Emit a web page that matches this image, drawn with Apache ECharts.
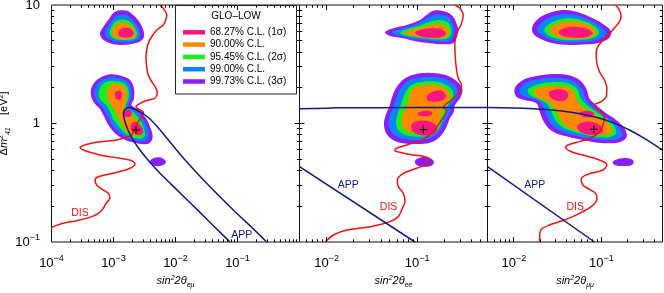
<!DOCTYPE html>
<html><head><meta charset="utf-8">
<script src="https://cdn.jsdelivr.net/npm/echarts@6/dist/echarts.min.js"></script>
<style>html,body{margin:0;padding:0;background:#fff}#c{width:664px;height:293px}</style>
</head><body><div id="c"></div>
<script>
// All coordinates are [log10(sin^2 2θ), log10(Δm²41 / eV²)]
const LEVELS = ['68.27% C.L. (1σ)', '90.00% C.L.', '95.45% C.L. (2σ)', '99.00% C.L.', '99.73% C.L. (3σ)'];
const PANEL_NAMES = ['eμ', 'ee', 'μμ'];
const X_RANGES = [[-4, 0], [-2.301, -0.222], [-2.301, -0.301]];
const Y_RANGE = [-1, 1];
const X_LABELS = [[-4, -3, -2, -1], [-2, -1], [-2, -1]];
const X_MAJORS = [[-4, -3, -2, -1, 0], [-3, -2, -1, 0], [-3, -2, -1, 0]];
const Y_MAJORS = [-1, 0, 1];
const MANTISSAS = [2, 3, 4, 5, 6, 7, 8, 9];

// ---------- Panel 1 (sin^2 2θ_eμ) ----------
const p1_dis = [[-2.261,1.0],[-2.197,0.972],[-2.142,0.916],[-2.158,0.873],[-2.197,0.831],[-2.303,0.789],[-2.384,0.732],[-2.439,0.677],[-2.465,0.620],[-2.476,0.564],[-2.465,0.479],[-2.439,0.409],[-2.384,0.353],[-2.315,0.297],[-2.294,0.255],[-2.331,0.213],[-2.439,0.198],[-2.573,0.170],[-2.637,0.142],[-2.573,0.114],[-2.519,0.097],[-2.540,0.063],[-2.605,0.013],[-2.669,-0.055],[-2.706,-0.097],[-2.842,-0.125],[-2.948,-0.139],[-3.218,-0.154],[-3.406,-0.173],[-3.540,-0.201],[-3.487,-0.224],[-3.218,-0.266],[-2.895,-0.294],[-2.706,-0.314],[-2.653,-0.342],[-2.734,-0.378],[-3.003,-0.420],[-3.245,-0.449],[-3.298,-0.477],[-3.271,-0.519],[-3.165,-0.561],[-3.084,-0.589],[-3.056,-0.631],[-3.121,-0.673],[-3.165,-0.716],[-3.245,-0.758],[-3.379,-0.792],[-3.594,-0.820],[-3.810,-0.842],[-4.0,-0.876]];
const p1_app = [[[-1.121,-1.0],[-1.335,-0.890],[-1.605,-0.750],[-1.981,-0.558],[-2.250,-0.420],[-2.444,-0.308],[-2.573,-0.224],[-2.685,-0.139],[-2.766,-0.055],[-2.823,0.030],[-2.839,0.089],[-2.815,0.118],[-2.761,0.135],[-2.681,0.127],[-2.573,0.101],[-2.439,0.051],[-2.303,-0.021],[-2.169,-0.105],[-2.035,-0.190],[-1.874,-0.291],[-1.497,-0.505],[-1.068,-0.730],[-0.745,-0.889],[-0.529,-1.0]]];
const p1_best = [[-2.637,-0.055]];
const p1_c9973 = [
  [[-2.976,0.944],[-2.788,0.952],[-2.681,0.916],[-2.584,0.859],[-2.519,0.789],[-2.509,0.733],[-2.573,0.691],[-2.707,0.671],[-2.896,0.663],[-3.057,0.677],[-3.175,0.710],[-3.218,0.761],[-3.164,0.817],[-3.084,0.874]],
  [[-3.057,0.415],[-2.868,0.401],[-2.734,0.367],[-2.670,0.297],[-2.670,0.212],[-2.707,0.156],[-2.600,0.114],[-2.476,0.044],[-2.401,-0.041],[-2.368,-0.117],[-2.422,-0.167],[-2.546,-0.173],[-2.707,-0.156],[-2.852,-0.128],[-2.976,-0.083],[-3.083,-0.013],[-3.164,0.072],[-3.229,0.128],[-3.325,0.184],[-3.368,0.254],[-3.336,0.325],[-3.229,0.381]],
  [[-2.401,-0.308],[-2.304,-0.286],[-2.196,-0.297],[-2.153,-0.325],[-2.207,-0.353],[-2.331,-0.359],[-2.401,-0.342]]
];
const p1_c9900 = [
  [[-2.949,0.910],[-2.799,0.918],[-2.707,0.882],[-2.627,0.831],[-2.573,0.767],[-2.584,0.719],[-2.681,0.693],[-2.842,0.685],[-3.003,0.696],[-3.121,0.733],[-3.138,0.775],[-3.084,0.823],[-3.014,0.874]],
  [[-3.057,0.390],[-2.885,0.378],[-2.772,0.350],[-2.718,0.288],[-2.718,0.212],[-2.761,0.148],[-2.637,0.105],[-2.519,0.035],[-2.449,-0.044],[-2.428,-0.111],[-2.476,-0.145],[-2.573,-0.148],[-2.707,-0.134],[-2.831,-0.106],[-2.938,-0.061],[-3.040,0.007],[-3.110,0.080],[-3.175,0.136],[-3.272,0.193],[-3.309,0.254],[-3.282,0.316],[-3.191,0.361]]
];
const p1_c9545 = [
  [[-2.949,0.868],[-2.799,0.874],[-2.707,0.845],[-2.643,0.795],[-2.616,0.747],[-2.664,0.716],[-2.788,0.705],[-2.949,0.710],[-3.046,0.738],[-3.057,0.783],[-3.014,0.831]],
  [[-3.046,0.359],[-2.895,0.353],[-2.799,0.328],[-2.756,0.277],[-2.761,0.204],[-2.799,0.142],[-2.680,0.094],[-2.573,0.029],[-2.508,-0.044],[-2.492,-0.097],[-2.540,-0.125],[-2.637,-0.125],[-2.745,-0.106],[-2.842,-0.069],[-2.922,-0.021],[-3.003,0.035],[-3.046,0.091],[-3.110,0.148],[-3.207,0.198],[-3.239,0.254],[-3.207,0.305],[-3.137,0.345]]
];
const p1_c9000 = [
  [[-2.939,0.840],[-2.799,0.845],[-2.707,0.817],[-2.654,0.775],[-2.654,0.738],[-2.724,0.716],[-2.869,0.710],[-2.976,0.727],[-3.019,0.761],[-3.003,0.803]],
  [[-3.003,0.333],[-2.885,0.328],[-2.815,0.297],[-2.788,0.240],[-2.809,0.170],[-2.831,0.119],[-2.734,0.080],[-2.627,0.024],[-2.557,-0.041],[-2.546,-0.083],[-2.600,-0.103],[-2.691,-0.097],[-2.777,-0.072],[-2.842,-0.027],[-2.906,0.035],[-2.960,0.091],[-3.014,0.142],[-3.083,0.193],[-3.110,0.249],[-3.083,0.297]]
];
const p1_c6827 = [
  [[-2.869,0.800],[-2.745,0.806],[-2.681,0.775],[-2.681,0.747],[-2.745,0.727],[-2.853,0.727],[-2.917,0.750],[-2.912,0.781]],
  [[-2.960,0.269],[-2.885,0.274],[-2.863,0.240],[-2.885,0.204],[-2.949,0.204],[-2.976,0.235]],
  [[-2.831,0.108],[-2.745,0.114],[-2.702,0.086],[-2.734,0.058],[-2.809,0.058],[-2.852,0.080]],
  [[-2.707,0.001],[-2.637,0.015],[-2.562,-0.021],[-2.519,-0.061],[-2.546,-0.092],[-2.616,-0.097],[-2.680,-0.077],[-2.723,-0.041]]
];
const p1_labels = [['DIS', -3.540, -0.755], ['APP', -0.932, -0.941]];

// ---------- Panel 2 (sin^2 2θ_ee) ----------
const p2_dis = [[-0.583,1.0],[-0.528,0.972],[-0.491,0.916],[-0.509,0.845],[-0.546,0.789],[-0.576,0.733],[-0.583,0.648],[-0.576,0.536],[-0.564,0.452],[-0.546,0.381],[-0.509,0.325],[-0.520,0.283],[-0.564,0.240],[-0.620,0.198],[-0.693,0.156],[-0.712,0.136],[-0.675,0.114],[-0.693,0.072],[-0.730,0.030],[-0.767,-0.013],[-0.822,-0.069],[-0.914,-0.125],[-1.006,-0.153],[-1.116,-0.181],[-1.227,-0.209],[-1.245,-0.229],[-1.172,-0.246],[-1.043,-0.266],[-0.914,-0.280],[-0.859,-0.302],[-0.877,-0.336],[-1.006,-0.378],[-1.153,-0.420],[-1.219,-0.477],[-1.208,-0.533],[-1.153,-0.589],[-1.135,-0.660],[-1.172,-0.730],[-1.208,-0.786],[-1.300,-0.828],[-1.521,-0.871],[-1.779,-0.899],[-1.926,-0.941],[-2.018,-1.0]];
const p2_app = [
  [[-2.301,0.124],[-1.999,0.128],[-1.900,0.133],[-1.000,0.134],[-0.222,0.134]],
  [[-2.301,-0.364],[-1.024,-1.0]]
];
const p2_best = [[-0.932,-0.052]];
const p2_c9973 = [
  [[-1.355,0.769],[-1.264,0.803],[-1.116,0.831],[-0.969,0.874],[-0.896,0.916],[-0.822,0.952],[-0.712,0.949],[-0.620,0.916],[-0.572,0.859],[-0.546,0.789],[-0.564,0.719],[-0.601,0.677],[-0.712,0.668],[-0.859,0.677],[-1.006,0.691],[-1.153,0.719],[-1.300,0.738]],
  [[-1.135,0.381],[-0.969,0.423],[-0.785,0.423],[-0.638,0.395],[-0.546,0.345],[-0.498,0.283],[-0.528,0.212],[-0.583,0.156],[-0.594,0.100],[-0.638,0.044],[-0.682,-0.041],[-0.748,-0.111],[-0.859,-0.162],[-1.043,-0.173],[-1.227,-0.153],[-1.330,-0.097],[-1.367,-0.013],[-1.348,0.072],[-1.308,0.142],[-1.282,0.212],[-1.234,0.297]],
  [[-1.024,-0.314],[-0.951,-0.285],[-0.859,-0.294],[-0.815,-0.322],[-0.840,-0.356],[-0.932,-0.364],[-1.006,-0.350]]
];
const p2_c9900 = [
  [[-1.282,0.769],[-1.153,0.803],[-1.006,0.840],[-0.896,0.888],[-0.804,0.916],[-0.712,0.916],[-0.638,0.888],[-0.601,0.831],[-0.594,0.761],[-0.620,0.705],[-0.712,0.691],[-0.859,0.699],[-1.006,0.710],[-1.153,0.733]],
  [[-1.116,0.353],[-0.962,0.390],[-0.785,0.390],[-0.656,0.362],[-0.583,0.317],[-0.546,0.260],[-0.572,0.204],[-0.631,0.148],[-0.638,0.092],[-0.682,0.035],[-0.730,-0.041],[-0.793,-0.097],[-0.896,-0.134],[-1.043,-0.139],[-1.190,-0.125],[-1.282,-0.077],[-1.315,-0.004],[-1.300,0.072],[-1.264,0.136],[-1.234,0.204],[-1.190,0.283]]
];
const p2_c9545 = [
  [[-1.190,0.767],[-1.080,0.803],[-0.951,0.831],[-0.859,0.859],[-0.748,0.874],[-0.656,0.851],[-0.620,0.789],[-0.638,0.733],[-0.712,0.710],[-0.859,0.713],[-1.006,0.727],[-1.135,0.744]],
  [[-1.061,0.325],[-0.932,0.353],[-0.785,0.353],[-0.675,0.325],[-0.609,0.277],[-0.601,0.226],[-0.645,0.170],[-0.686,0.114],[-0.704,0.058],[-0.741,-0.013],[-0.785,-0.069],[-0.877,-0.106],[-1.006,-0.111],[-1.135,-0.097],[-1.208,-0.055],[-1.234,0.007],[-1.219,0.072],[-1.190,0.136],[-1.161,0.198],[-1.124,0.269]]
];
const p2_c9000 = [
  [[-1.135,0.767],[-1.024,0.797],[-0.896,0.823],[-0.785,0.840],[-0.693,0.823],[-0.645,0.775],[-0.675,0.733],[-0.767,0.719],[-0.914,0.724],[-1.043,0.738]],
  [[-1.024,0.305],[-0.914,0.325],[-0.785,0.322],[-0.693,0.297],[-0.638,0.249],[-0.645,0.198],[-0.704,0.148],[-0.730,0.086],[-0.756,0.016],[-0.793,-0.041],[-0.877,-0.077],[-0.988,-0.083],[-1.098,-0.069],[-1.161,-0.027],[-1.172,0.030],[-1.153,0.086],[-1.116,0.142],[-1.091,0.212],[-1.072,0.269]]
];
const p2_c6827 = [
  [[-1.024,0.767],[-0.932,0.795],[-0.822,0.803],[-0.730,0.795],[-0.682,0.761],[-0.719,0.733],[-0.822,0.724],[-0.951,0.733]],
  [[-1.061,-0.004],[-0.977,0.024],[-0.859,0.016],[-0.785,-0.021],[-0.785,-0.069],[-0.859,-0.097],[-0.969,-0.097],[-1.050,-0.063]],
  [[-0.896,0.226],[-0.822,0.269],[-0.730,0.277],[-0.682,0.240],[-0.712,0.198],[-0.804,0.184],[-0.877,0.193]],
  [[-0.988,0.092],[-0.914,0.108],[-0.840,0.100],[-0.840,0.072],[-0.932,0.063],[-0.988,0.072]]
];
const p2_labels = [['APP', -1.763, -0.519], ['DIS', -1.316, -0.707]];

// ---------- Panel 3 (sin^2 2θ_μμ) ----------
const p3_dis = [[-0.838,1.0],[-0.793,0.958],[-0.774,0.902],[-0.793,0.859],[-0.869,0.789],[-0.964,0.719],[-1.040,0.648],[-1.059,0.592],[-1.051,0.508],[-1.021,0.437],[-0.964,0.367],[-0.937,0.297],[-0.945,0.226],[-1.002,0.184],[-1.078,0.156],[-1.059,0.128],[-1.002,0.100],[-0.964,0.044],[-0.983,-0.013],[-1.021,-0.069],[-1.116,-0.120],[-1.249,-0.153],[-1.382,-0.181],[-1.408,-0.201],[-1.344,-0.238],[-1.173,-0.274],[-1.002,-0.314],[-0.937,-0.350],[-0.983,-0.392],[-1.173,-0.434],[-1.230,-0.471],[-1.211,-0.519],[-1.135,-0.556],[-1.059,-0.595],[-1.051,-0.640],[-1.116,-0.702],[-1.249,-0.758],[-1.401,-0.809],[-1.591,-0.856],[-1.686,-0.893],[-1.705,-0.955],[-1.705,-1.0]];
const p3_app = [
  [[-2.301,0.134],[-2.009,0.131],[-1.629,0.118],[-1.325,0.092],[-1.059,0.052],[-0.869,0.007],[-0.679,-0.055],[-0.489,-0.134],[-0.301,-0.225]],
  [[-2.301,-0.364],[-1.078,-1.0]]
];
const p3_best = [[-1.085,-0.049]];
const p3_c9973 = [
  [[-1.781,0.831],[-1.686,0.902],[-1.553,0.944],[-1.401,0.958],[-1.249,0.935],[-1.097,0.888],[-0.964,0.831],[-0.888,0.775],[-0.914,0.719],[-1.021,0.682],[-1.173,0.668],[-1.363,0.663],[-1.553,0.677],[-1.686,0.710],[-1.781,0.761]],
  [[-1.990,0.297],[-1.895,0.367],[-1.743,0.401],[-1.553,0.418],[-1.382,0.409],[-1.249,0.367],[-1.173,0.297],[-1.135,0.212],[-1.059,0.156],[-0.945,0.086],[-0.831,0.030],[-0.736,-0.041],[-0.709,-0.111],[-0.774,-0.153],[-0.888,-0.167],[-1.040,-0.162],[-1.211,-0.139],[-1.382,-0.111],[-1.553,-0.069],[-1.648,0.002],[-1.705,0.100],[-1.743,0.170],[-1.876,0.198],[-1.971,0.226]],
  [[-0.869,-0.322],[-0.800,-0.297],[-0.698,-0.294],[-0.633,-0.314],[-0.648,-0.350],[-0.755,-0.359],[-0.850,-0.350]]
];
const p3_c9900 = [
  [[-1.724,0.817],[-1.629,0.879],[-1.515,0.916],[-1.382,0.924],[-1.249,0.907],[-1.116,0.868],[-1.002,0.817],[-0.945,0.767],[-0.983,0.727],[-1.078,0.699],[-1.211,0.688],[-1.382,0.685],[-1.534,0.699],[-1.648,0.727],[-1.724,0.775]],
  [[-1.933,0.297],[-1.838,0.353],[-1.705,0.376],[-1.553,0.387],[-1.393,0.376],[-1.279,0.339],[-1.211,0.277],[-1.180,0.204],[-1.097,0.142],[-0.975,0.072],[-0.869,0.016],[-0.785,-0.049],[-0.762,-0.106],[-0.831,-0.134],[-0.945,-0.139],[-1.097,-0.131],[-1.249,-0.111],[-1.408,-0.083],[-1.522,-0.041],[-1.598,0.024],[-1.648,0.108],[-1.705,0.184],[-1.838,0.218],[-1.925,0.249]]
];
const p3_c9545 = [
  [[-1.648,0.803],[-1.572,0.851],[-1.458,0.879],[-1.344,0.888],[-1.211,0.868],[-1.097,0.831],[-1.028,0.783],[-1.051,0.738],[-1.135,0.713],[-1.268,0.705],[-1.420,0.705],[-1.553,0.724],[-1.636,0.761]],
  [[-1.838,0.288],[-1.743,0.325],[-1.629,0.345],[-1.477,0.350],[-1.355,0.333],[-1.275,0.288],[-1.241,0.221],[-1.180,0.165],[-1.059,0.100],[-0.926,0.035],[-0.850,-0.027],[-0.831,-0.083],[-0.888,-0.111],[-1.021,-0.117],[-1.173,-0.097],[-1.317,-0.069],[-1.439,-0.032],[-1.522,0.024],[-1.572,0.100],[-1.629,0.170],[-1.735,0.212],[-1.819,0.240]]
];
const p3_c9000 = [
  [[-1.591,0.795],[-1.507,0.840],[-1.401,0.859],[-1.287,0.859],[-1.173,0.840],[-1.078,0.795],[-1.078,0.747],[-1.173,0.719],[-1.306,0.713],[-1.439,0.719],[-1.545,0.747]],
  [[-1.762,0.283],[-1.648,0.311],[-1.496,0.317],[-1.382,0.305],[-1.306,0.260],[-1.279,0.198],[-1.230,0.148],[-1.097,0.086],[-0.964,0.024],[-0.888,-0.032],[-0.888,-0.083],[-0.964,-0.097],[-1.097,-0.089],[-1.249,-0.069],[-1.363,-0.041],[-1.446,0.007],[-1.492,0.072],[-1.545,0.142],[-1.629,0.193],[-1.743,0.226]]
];
const p3_c6827 = [
  [[-1.477,0.783],[-1.382,0.812],[-1.249,0.812],[-1.135,0.789],[-1.097,0.761],[-1.154,0.733],[-1.287,0.724],[-1.408,0.733],[-1.477,0.755]],
  [[-1.591,0.269],[-1.477,0.288],[-1.393,0.269],[-1.382,0.226],[-1.420,0.193],[-1.515,0.193],[-1.583,0.221]],
  [[-1.268,-0.013],[-1.173,0.016],[-1.059,0.002],[-0.983,-0.041],[-1.002,-0.083],[-1.097,-0.097],[-1.211,-0.083],[-1.268,-0.049]],
  [[-1.249,0.092],[-1.154,0.108],[-1.078,0.086],[-1.116,0.058],[-1.211,0.058]]
];
const p3_labels = [['APP', -1.762, -0.519], ['DIS', -1.298, -0.706]];

// ---------- styles ----------
const FONT = '"Liberation Sans", Arial, Helvetica, sans-serif';
const LEVEL_COLORS = ['#f7177f', '#ff8a00', '#1cf01c', '#0a84ff', '#8a1eff'];
const DIS_COLOR = '#f21111';
const APP_COLOR = '#16168a';
const GRIDS = [
  {left: 51.5, top: 5, width: 248, height: 237},
  {left: 299.5, top: 5, width: 188, height: 237},
  {left: 487.5, top: 5, width: 175, height: 237}
];

const panels = [
  {dis: p1_dis, app: p1_app, best: p1_best, c: [p1_c6827, p1_c9000, p1_c9545, p1_c9900, p1_c9973], labels: p1_labels},
  {dis: p2_dis, app: p2_app, best: p2_best, c: [p2_c6827, p2_c9000, p2_c9545, p2_c9900, p2_c9973], labels: p2_labels},
  {dis: p3_dis, app: p3_app, best: p3_best, c: [p3_c6827, p3_c9000, p3_c9545, p3_c9900, p3_c9973], labels: p3_labels}
];

function ticksFor(majors, lo, hi) {
  const out = [];
  majors.forEach(n => {
    if (n > lo + 1e-3 && n < hi - 1e-3) out.push([n, 1]);
    MANTISSAS.forEach(k => {
      const v = n + Math.log10(k);
      if (v > lo + 1e-3 && v < hi - 1e-3) out.push([v, 0]);
    });
  });
  return out;
}

const rich = {
  b: {fontSize: 13, lineHeight: 18, fontFamily: FONT, color: '#000'},
  s: {fontSize: 9, lineHeight: 10, verticalAlign: 'top', fontFamily: FONT, color: '#000'}
};
const nameRich = {
  i: {fontStyle: 'italic', fontSize: 11, lineHeight: 14, fontFamily: FONT, color: '#000'},
  g: {fontSize: 11, lineHeight: 14, fontFamily: FONT, color: '#000'},
  sp: {fontStyle: 'italic', fontSize: 7, lineHeight: 8, verticalAlign: 'top', fontFamily: FONT, color: '#000'},
  sb: {fontStyle: 'italic', fontSize: 7, lineHeight: 8, verticalAlign: 'bottom', fontFamily: FONT, color: '#000'},
  su: {fontSize: 7, lineHeight: 8, verticalAlign: 'top', fontFamily: FONT, color: '#000'}
};

const xAxes = [], yAxes = [], series = [];
panels.forEach((p, g) => {
  const xr = X_RANGES[g];
  xAxes.push({
    type: 'value', gridIndex: g, min: xr[0], max: xr[1],
    axisLine: {show: false}, axisTick: {show: false}, splitLine: {show: false},
    axisLabel: {
      show: true, customValues: X_LABELS[g], margin: 12,
      formatter: v => '{b|10}{s|−' + Math.round(-v) + '}', rich: rich
    },
    name: '{i|sin}{sp|2}{i|2θ}{sb|' + PANEL_NAMES[g] + '}',
    nameLocation: 'middle', nameGap: 32, nameTextStyle: {rich: nameRich}
  });
  yAxes.push({
    type: 'value', gridIndex: g, min: Y_RANGE[0], max: Y_RANGE[1], interval: 1,
    axisLine: {show: false}, axisTick: {show: false}, splitLine: {show: false},
    axisLabel: {
      show: g === 0, margin: 11.5,
      formatter: v => { const r = Math.round(v); return r === 1 ? '{b|10}' : r === 0 ? '{b|1}' : '{b|10}{s|−1}'; },
      rich: rich
    },
    name: g === 0 ? '{g|Δ}{i|m}{su|2}{sb|41}{g|    [eV}{su|2}{g|]}' : '',
    nameLocation: 'middle', nameGap: 34, nameRotate: 90, nameTextStyle: {rich: nameRich}
  });

  // contours: draw outer (99.73%) first
  for (let lv = 4; lv >= 0; lv--) {
    const polys = p.c[lv];
    const color = LEVEL_COLORS[lv];
    series.push({
      type: 'custom', name: LEVELS[lv], xAxisIndex: g, yAxisIndex: g, silent: true, z: 1,
      itemStyle: {color: color},
      data: polys.map((_, i) => [i, 0]),
      renderItem: (params, api) => {
        const poly = polys[params.dataIndex];
        return {type: 'polygon', shape: {points: poly.map(pt => api.coord(pt)), smooth: 0.35},
                style: {fill: color}};
      }
    });
  }
  // DIS curve
  series.push({type: 'line', xAxisIndex: g, yAxisIndex: g, data: p.dis, showSymbol: false, smooth: 0.3,
    silent: true, z: 3, lineStyle: {color: DIS_COLOR, width: 1.5}, itemStyle: {color: DIS_COLOR}});
  // APP curves
  p.app.forEach(a => {
    series.push({type: 'line', xAxisIndex: g, yAxisIndex: g, data: a, showSymbol: false, smooth: 0.3,
      silent: true, z: 3, lineStyle: {color: APP_COLOR, width: 1.5}, itemStyle: {color: APP_COLOR}});
  });
  // best fit marker
  series.push({type: 'custom', xAxisIndex: g, yAxisIndex: g, silent: true, z: 4, data: p.best,
    renderItem: (params, api) => {
      const c = api.coord([api.value(0), api.value(1)]);
      const st = {stroke: '#000', lineWidth: 1};
      return {type: 'group', children: [
        {type: 'line', shape: {x1: c[0] - 4, y1: c[1], x2: c[0] + 4, y2: c[1]}, style: st},
        {type: 'line', shape: {x1: c[0], y1: c[1] - 4, x2: c[0], y2: c[1] + 4}, style: st}
      ]};
    }});
  // curve labels
  series.push({type: 'custom', xAxisIndex: g, yAxisIndex: g, silent: true, z: 4,
    data: p.labels.map(l => [l[1], l[2]]),
    renderItem: (params, api) => {
      const l = p.labels[params.dataIndex];
      const c = api.coord([l[1], l[2]]);
      return {type: 'text', x: c[0], y: c[1], style: {text: l[0], fontSize: 10.5, fontFamily: FONT,
        fill: l[0] === 'DIS' ? DIS_COLOR : APP_COLOR, align: 'center', verticalAlign: 'middle'}};
    }});
  // ticks (inward, all four sides)
  const ticks = ticksFor(X_MAJORS[g], xr[0], xr[1]).map(t => [t[0], 1, t[1]])
    .concat(ticksFor(Y_MAJORS, Y_RANGE[0], Y_RANGE[1]).map(t => [t[0], 0, t[1]]));
  series.push({type: 'custom', xAxisIndex: g, yAxisIndex: g, silent: true, z: 5, data: ticks,
    renderItem: (params, api) => {
      const v = api.value(0), isX = api.value(1), major = api.value(2);
      const L = major ? 5 : 2.7;
      const st = {stroke: '#000', lineWidth: 1};
      if (isX) {
        const a = api.coord([v, Y_RANGE[0]]), b = api.coord([v, Y_RANGE[1]]);
        const x = Math.round(a[0] - 0.5) + 0.5;
        return {type: 'group', children: [
          {type: 'line', shape: {x1: x, y1: a[1], x2: x, y2: a[1] - L}, style: st},
          {type: 'line', shape: {x1: x, y1: b[1], x2: x, y2: b[1] + L}, style: st}]};
      }
      const a = api.coord([xr[0], v]), b = api.coord([xr[1], v]);
      const y = Math.round(a[1] - 0.5) + 0.5;
      return {type: 'group', children: [
        {type: 'line', shape: {x1: a[0], y1: y, x2: a[0] + L, y2: y}, style: st},
        {type: 'line', shape: {x1: b[0], y1: y, x2: b[0] - L, y2: y}, style: st}]};
    }});
});

const chart = echarts.init(document.getElementById('c'), null, {renderer: 'canvas'});
chart.setOption({
  animation: false,
  backgroundColor: '#fff',
  textStyle: {fontFamily: FONT, color: '#000'},
  grid: GRIDS.map(gr => Object.assign({show: true, borderColor: '#111', borderWidth: 1,
    backgroundColor: 'transparent', containLabel: false, outerBoundsMode: 'none'}, gr)),
  xAxis: xAxes,
  yAxis: yAxes,
  legend: {
    data: LEVELS, orient: 'vertical', left: 183, top: 26.3, padding: 0,
    itemWidth: 22, itemHeight: 4.5, itemGap: 0.3, icon: 'rect', selectedMode: false,
    textStyle: {fontSize: 10, lineHeight: 12, color: '#000', fontFamily: FONT}
  },
  graphic: [
    {type: 'rect', shape: {x: 175.5, y: 5.5, width: 121, height: 88.5},
     style: {fill: 'none', stroke: '#222', lineWidth: 1}, z: 10, silent: true},
    {type: 'text', x: 236, y: 16.5, z: 10, silent: true,
     style: {text: 'GLO–LOW', fontSize: 10, fontFamily: FONT, fill: '#000', align: 'center', verticalAlign: 'middle'}}
  ],
  series: series
});
</script></body></html>
